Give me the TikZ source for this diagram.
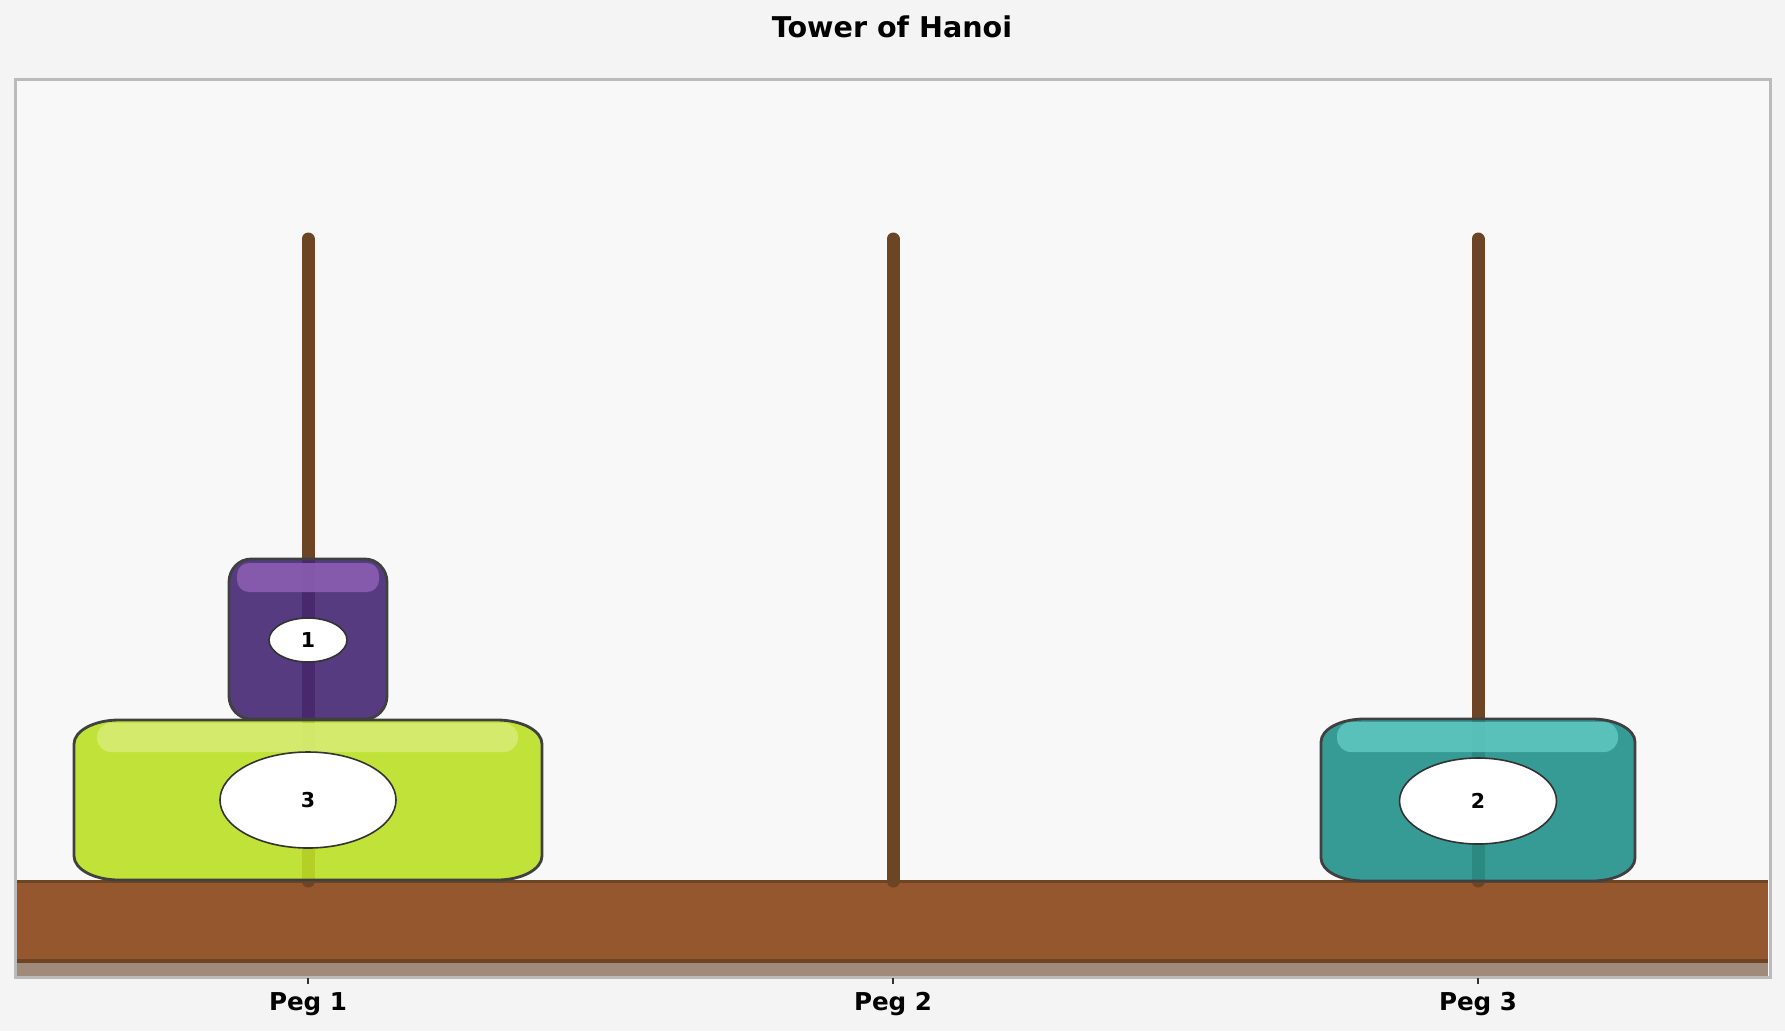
\documentclass[tikz,border=0pt]{standalone}
\usepackage{fontspec}
\setmainfont{DejaVu Sans}
\usetikzlibrary{shapes.geometric}
\definecolor{bgout}{HTML}{F4F4F4}
\definecolor{plotbg}{HTML}{F8F8F8}
\definecolor{framec}{HTML}{BBBBBB}
\definecolor{basebrown}{RGB}{149,87,45}
\definecolor{pegbrown}{RGB}{107,69,36}
\definecolor{shadowc}{RGB}{160,138,121}
\definecolor{limec}{RGB}{188,224,37}
\definecolor{limehi}{RGB}{213,235,115}
\definecolor{purplec}{RGB}{70,39,117}
\definecolor{purplehi}{RGB}{138,94,178}
\definecolor{tealc}{RGB}{35,145,139}
\definecolor{tealhi}{RGB}{93,197,191}
\definecolor{outl}{HTML}{404040}
\tikzset{
  peg/.style={draw=pegbrown, line width=13pt, line cap=round},
  diskbody/.style={fill opacity=0.9, draw=outl, line width=2.8pt},
  hilite/.style={fill opacity=0.9, rounded corners=14pt},
  numlabel/.style={ellipse, draw=black!80, line width=1.6pt, fill=white, inner sep=0pt, font=\bfseries\fontsize{20.5}{20.5}\selectfont},
  peglabel/.style={anchor=base, font=\bfseries\fontsize{24.6}{24.6}\selectfont},
  tick/.style={draw=black!80, line width=1.5pt}
}
% args: style, x1, y1, x2, y2, rx, ry
\newcommand\rrdraw[7]{%
  \path[#1] ({#2},{#3+#7}) .. controls ({#2},{#3+0.4477*#7}) and ({#2+0.4477*#6},{#3}) .. ({#2+#6},{#3})
   -- ({#4-#6},{#3}) .. controls ({#4-0.4477*#6},{#3}) and ({#4},{#3+0.4477*#7}) .. ({#4},{#3+#7})
   -- ({#4},{#5-#7}) .. controls ({#4},{#5-0.4477*#7}) and ({#4-0.4477*#6},{#5}) .. ({#4-#6},{#5})
   -- ({#2+#6},{#5}) .. controls ({#2+0.4477*#6},{#5}) and ({#2},{#5-0.4477*#7}) .. ({#2},{#5-#7}) -- cycle;}
\begin{document}
\begin{tikzpicture}[x=1pt,y=-1pt]
\useasboundingbox[fill=bgout] (0,0) rectangle (1785,1031);
\node[anchor=base, font=\bfseries\fontsize{28.6}{28.6}\selectfont] (title) at (892,37) {Tower of Hanoi};
\fill[plotbg] (15,79) rectangle (1770,977);
% base
\fill[basebrown] (15,880) rectangle (1768,961);
\fill[shadowc] (15,962) rectangle (1768,976);
\draw[pegbrown, line width=3.5pt] (15,881.5) -- (1768,881.5);
\draw[pegbrown, line width=4pt] (15,960.5) -- (1768,960.5);
% pegs
\coordinate (p1top) at (308,239); \coordinate (p1bot) at (308,881);
\coordinate (p2top) at (893,239); \coordinate (p2bot) at (893,881);
\coordinate (p3top) at (1478,239); \coordinate (p3bot) at (1478,881);
\draw[peg] (p1top) -- (p1bot);
\draw[peg] (p2top) -- (p2bot);
\draw[peg] (p3top) -- (p3bot);
% disk 3 (lime)
\rrdraw{diskbody, fill=limec}{74}{720}{542}{880}{45}{24}
\path[hilite, fill=limehi] (97,723) rectangle (518,752);
% disk 1 (purple)
\rrdraw{diskbody, fill=purplec}{229}{559}{387}{719}{22}{23}
\path[hilite, fill=purplehi, rounded corners=12pt] (237,563) rectangle (379,592);
% disk 2 (teal)
\rrdraw{diskbody, fill=tealc}{1321}{719}{1635}{881}{43}{23}
\path[hilite, fill=tealhi] (1337,722) rectangle (1618,752);
% labels
\node[numlabel, minimum width=176pt, minimum height=96pt] (d3) at (308,800) {3};
\node[numlabel, minimum width=78pt, minimum height=44pt] (d1) at (308,640) {1};
\node[numlabel, minimum width=157pt, minimum height=86pt] (d2) at (1478,801) {2};
% frame
\draw[framec, line width=3pt] (15,79) rectangle (1770,977);
% ticks and peg labels
\draw[tick] (308,978) -- (308,984);
\draw[tick] (893,978) -- (893,984);
\draw[tick] (1478,978) -- (1478,984);
\node[peglabel] (l1) at (308,1010) {Peg 1};
\node[peglabel] (l2) at (893,1010) {Peg 2};
\node[peglabel] (l3) at (1478,1010) {Peg 3};
\end{tikzpicture}
\end{document}
